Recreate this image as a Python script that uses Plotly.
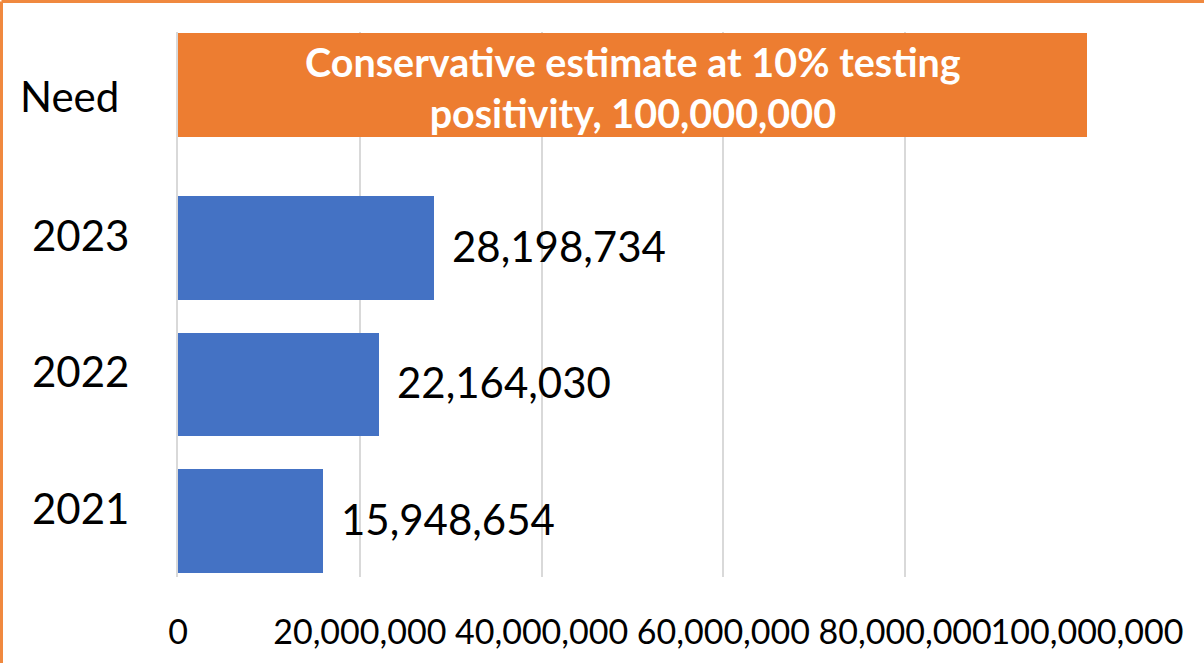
import plotly.graph_objects as go

# ---- data ----
years = ["2021", "2022", "2023"]
tests = [15948654, 22164030, 28198734]
need_label = "Need"
need_value = 100000000
need_text = "Conservative estimate at 10% testing<br>positivity, 100,000,000"
x_ticks = [0, 20000000, 40000000, 60000000, 80000000, 100000000]
x_tick_labels = ["0", "20,000,000", "40,000,000", "60,000,000", "80,000,000", "100,000,000"]

W, H = 1204, 663
ML, MR, MT, MB = 178, 117, 32, 86

year_pos = list(range(len(years)))
need_pos = len(years) - 1 + 1.19
y_range = [-0.41, 3.58]


def px_x(px):
    return (px - ML) / (W - ML - MR)


def px_y(py):
    return (H - MB - py) / (H - MT - MB)


fig = go.Figure()
fig.add_trace(go.Bar(
    y=year_pos, x=tests, orientation="h", width=0.76,
    marker=dict(color="#4472C4", line=dict(width=0)),
    showlegend=False, hoverinfo="skip",
))
fig.add_trace(go.Bar(
    y=[need_pos], x=[need_value], orientation="h", width=0.76,
    marker=dict(color="#ED7D31", line=dict(width=0)),
    showlegend=False, hoverinfo="skip",
))

# value labels
for p, v in zip(year_pos, tests):
    fig.add_annotation(x=v, y=p, xref="x", yref="y", text=f"{v:,}",
                       showarrow=False, xanchor="left", yanchor="middle",
                       xshift=16, yshift=2,
                       font=dict(family="Lato", size=42, color="#000000"))

# text inside the Need bar
fig.add_annotation(x=need_value / 2, y=need_pos, xref="x", yref="y", text=need_text,
                   showarrow=False, xanchor="center", yanchor="middle", yshift=-2,
                   font=dict(family="Lato", size=39.5, color="#FFFFFF", weight="bold"))

# category labels
for p, lab in zip(year_pos, years):
    fig.add_annotation(x=px_x(131), y=p, xref="paper", yref="y", text=lab,
                       showarrow=False, xanchor="right", yanchor="middle", yshift=13,
                       font=dict(family="Lato", size=42, color="#000000"))
fig.add_annotation(x=px_x(121), y=need_pos, xref="paper", yref="y", text=need_label,
                   showarrow=False, xanchor="right", yanchor="middle", yshift=-11,
                   font=dict(family="Lato", size=42, color="#000000"))

# frame (top and left edges visible)
fig.add_shape(type="line", xref="paper", yref="paper",
              x0=px_x(1.5), x1=px_x(W + 10), y0=px_y(1.5), y1=px_y(1.5),
              line=dict(color="#F0893F", width=3))
fig.add_shape(type="line", xref="paper", yref="paper",
              x0=px_x(1.5), x1=px_x(1.5), y0=px_y(1.5), y1=px_y(H + 10),
              line=dict(color="#F0893F", width=3))

fig.update_layout(
    width=W, height=H,
    margin=dict(l=ML, r=MR, t=MT, b=MB, pad=0, autoexpand=False),
    paper_bgcolor="white", plot_bgcolor="white",
    font=dict(family="Lato", color="#000000"),
    bargap=0,
)
fig.update_xaxes(
    range=[0, need_value], tickvals=x_ticks, ticktext=x_tick_labels,
    showgrid=True, gridcolor="#D9D9D9", gridwidth=1.5,
    zeroline=False, showline=False, ticks="", tickangle=0, automargin=False,
    tickfont=dict(family="Lato", size=34, color="#000000"),
    ticklabelstandoff=32, fixedrange=True,
)
fig.update_yaxes(
    range=y_range, showticklabels=False, automargin=False,
    showgrid=False, zeroline=False, showline=True, linecolor="#D9D9D9", linewidth=1.5,
    ticks="", fixedrange=True,
)

fig.write_html("out.html", config={"displayModeBar": False},
               post_script="document.body.style.margin='0';document.body.style.padding='0';")
